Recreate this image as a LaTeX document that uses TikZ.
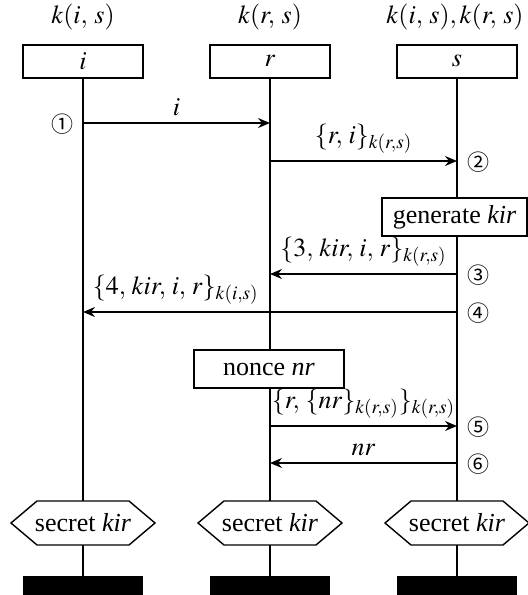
\documentclass[tikz,border=0pt]{standalone}
\usepackage{mathptmx}
\usepackage[no-math]{fontspec}
\setmainfont{Liberation Serif}
\newfontfamily\circfont{Noto Sans CJK SC}
\usetikzlibrary{arrows.meta}
\newcommand\cma{,\mskip2mu}
\begin{document}
\begin{tikzpicture}[x=0.5pt,y=-0.5pt,
  font=\fontsize{13}{15}\selectfont,
  life/.style={line width=0.7pt},
  actor/.style={draw,line width=1pt,fill=white,minimum width=60pt,minimum height=16.5pt,inner sep=0pt},
  act/.style={draw,line width=1pt,fill=white,inner sep=0pt,minimum height=19pt},
  hexa/.style={minimum width=72pt,minimum height=22pt,inner sep=0pt},
  hexline/.style={draw,line width=0.7pt,fill=white},
  bar/.style={fill=black,minimum width=60pt,minimum height=10pt,inner sep=0pt},
  msg/.style={line width=0.7pt,-{Stealth[length=6pt,width=5pt,inset=2pt]}},
  num/.style={font=\circfont\fontsize{11}{13}\selectfont},
  lbl/.style={above=0pt}]
\useasboundingbox (0,0) rectangle (528,595);
% headers
\node (ki) at (83,17) {$k(i,\:s)$};
\node (kr) at (270,17) {$k(r,\:s)$};
\node (ks) at (455,17) {$k(i,\:s),k(r,\:s)$};
\node[actor] (I) at (83,61) {$i$};
\node[actor] (R) at (270,61) {$r$};
\node[actor] (S) at (457,61) {$s$};
% hexagons and bars
\foreach \x in {83,270,457}{
  \draw[hexline] (\x-72,523) -- (\x-46,501) -- (\x+46,501) -- (\x+72,523) -- (\x+46,545) -- (\x-46,545) -- cycle;
}
\node[hexa] (hI) at (83,523) {secret \textit{kir}};
\node[hexa] (hR) at (270,523) {secret \textit{kir}};
\node[hexa] (hS) at (457,523) {secret \textit{kir}};
\node[bar] (bI) at (83,586) {};
\node[bar] (bR) at (270,586) {};
\node[bar] (bS) at (457,586) {};
% lifelines
\draw[life] (I.south) -- (hI.north);
\draw[life] (hI.south) -- (bI.north);
\draw[life] (R.south) -- (hR.north);
\draw[life] (hR.south) -- (bR.north);
\draw[life] (S.south) -- (hS.north);
\draw[life] (hS.south) -- (bS.north);
% actions
\node[act,minimum width=72.5pt] (gen) at (454.5,217) {generate \textit{kir}};
\node[act,minimum width=75pt] (nonce) at (269,369) {nonce \textit{nr}};
% message anchors
\coordinate (i1) at (83,123); \coordinate (r1) at (270,123);
\coordinate (r2) at (270,161); \coordinate (s2) at (457,161);
\coordinate (s3) at (457,274); \coordinate (r3) at (270,274);
\coordinate (s4) at (457,312); \coordinate (i4) at (83,312);
\coordinate (r5) at (270,426); \coordinate (s5) at (457,426);
\coordinate (s6) at (457,463); \coordinate (r6) at (270,463);
% messages
\draw[msg] (i1) -- node[lbl] {$i$} (r1);
\draw[msg] (r2) -- node[lbl] {$\{r\cma i\}_{k(r,s)}$} (s2);
\draw[msg] (s3) -- node[lbl] {$\{3\cma kir\cma i\cma r\}_{k(r,s)}$} (r3);
\draw[msg] (s4) -- node[anchor=south east,pos=0.5,xshift=-2pt] {$\{4\cma kir\cma i\cma r\}_{k(i,s)}$} (i4);
\draw[msg] (r5) -- node[lbl] {$\{r\cma \{nr\}_{k(r,s)}\}_{k(r,s)}$} (s5);
\draw[msg] (s6) -- node[lbl] {$nr$} (r6);
% step numbers
\node[num] (n1) at (62,124) {①};
\node[num] (n2) at (478,162) {②};
\node[num] (n3) at (478,275) {③};
\node[num] (n4) at (478,313) {④};
\node[num] (n5) at (478,427) {⑤};
\node[num] (n6) at (478,464) {⑥};
\end{tikzpicture}
\end{document}
